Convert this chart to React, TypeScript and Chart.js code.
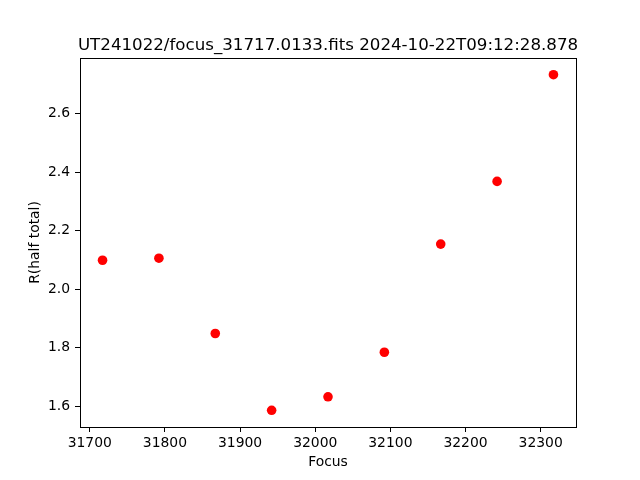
import React, { useEffect, useRef } from "react";
import { Chart, registerables } from "chart.js";

Chart.register(...registerables);

const titleText = "UT241022/focus_31717.0133.fits 2024-10-22T09:12:28.878";
const xLabel = "Focus";
const yLabel = "R(half total)";
const focusValues = [31717, 31792, 31867, 31942, 32017, 32092, 32167, 32242, 32317];
const radiusValues = [2.099, 2.106, 1.849, 1.587, 1.633, 1.785, 2.154, 2.368, 2.732];
const xTicks = [31700, 31800, 31900, 32000, 32100, 32200, 32300];
const yTicks = [1.6, 1.8, 2.0, 2.2, 2.4, 2.6];
const xRange = [31687, 32347];
const yRange = [1.530, 2.789];

const FONT = "'DejaVu Sans', sans-serif";

const framePlugin = {
  id: "frameAndTitle",
  afterDraw(chart: any) {
    const { ctx, chartArea } = chart;
    const { left, right, top, bottom } = chartArea;
    ctx.save();
    ctx.strokeStyle = "#000";
    ctx.lineWidth = 1;
    ctx.strokeRect(Math.round(left) + 0.5, Math.round(top) + 0.5, Math.round(right - left), Math.round(bottom - top));
    ctx.fillStyle = "#000";
    ctx.font = `16.67px ${FONT}`;
    ctx.textAlign = "center";
    ctx.textBaseline = "alphabetic";
    ctx.fillText(titleText, (left + right) / 2, top - 8);
    ctx.restore();
  },
};

export default function App() {
  const ref = useRef<HTMLCanvasElement | null>(null);
  useEffect(() => {
    if (!ref.current) return;
    const chart = new Chart(ref.current, {
      type: "scatter",
      data: {
        datasets: [
          {
            data: focusValues.map((x, i) => ({ x, y: radiusValues[i] })),
            backgroundColor: "#ff0000",
            borderColor: "#ff0000",
            borderWidth: 0,
            pointRadius: 4.8,
            pointHoverRadius: 4.8,
          },
        ],
      },
      options: {
        responsive: false,
        animation: false,
        events: [],
        layout: { padding: { top: 58, right: 64, left: 0, bottom: 0 } },
        plugins: {
          legend: { display: false },
          tooltip: { enabled: false },
          title: { display: false },
        },
        scales: {
          x: {
            type: "linear",
            min: xRange[0],
            max: xRange[1],
            afterBuildTicks: (scale: any) => {
              scale.ticks = xTicks.map((v) => ({ value: v }));
            },
            afterFit: (scale: any) => {
              scale.height = 53;
            },
            grid: {
              drawOnChartArea: false,
              drawTicks: true,
              tickLength: 5,
              tickWidth: 1,
              tickColor: "#000",
            },
            border: { display: false },
            ticks: {
              color: "#000",
              padding: 3,
              maxRotation: 0,
              autoSkip: false,
              font: { family: FONT, size: 13.9 },
              callback: (v: any) => String(v),
            },
            title: {
              display: true,
              text: xLabel,
              color: "#000",
              font: { family: FONT, size: 13.9 },
              padding: { top: 0, bottom: 9 },
            },
          },
          y: {
            type: "linear",
            min: yRange[0],
            max: yRange[1],
            afterBuildTicks: (scale: any) => {
              scale.ticks = yTicks.map((v) => ({ value: v }));
            },
            afterFit: (scale: any) => {
              scale.width = 80;
            },
            grid: {
              drawOnChartArea: false,
              drawTicks: true,
              tickLength: 5,
              tickWidth: 1,
              tickColor: "#000",
            },
            border: { display: false },
            ticks: {
              color: "#000",
              padding: 5,
              autoSkip: false,
              font: { family: FONT, size: 13.9 },
              callback: (v: any) => Number(v).toFixed(1),
            },
            title: {
              display: true,
              text: yLabel,
              color: "#000",
              font: { family: FONT, size: 13.9 },
              padding: { top: 27, bottom: 0 },
            },
          },
        },
      },
      plugins: [framePlugin],
    });
    return () => chart.destroy();
  }, []);
  return (
    <div style={{ position: "absolute", left: 0, top: 0, width: 640, height: 480, background: "#fff" }}>
      <canvas ref={ref} width={640} height={480} style={{ display: "block" }} />
    </div>
  );
}
